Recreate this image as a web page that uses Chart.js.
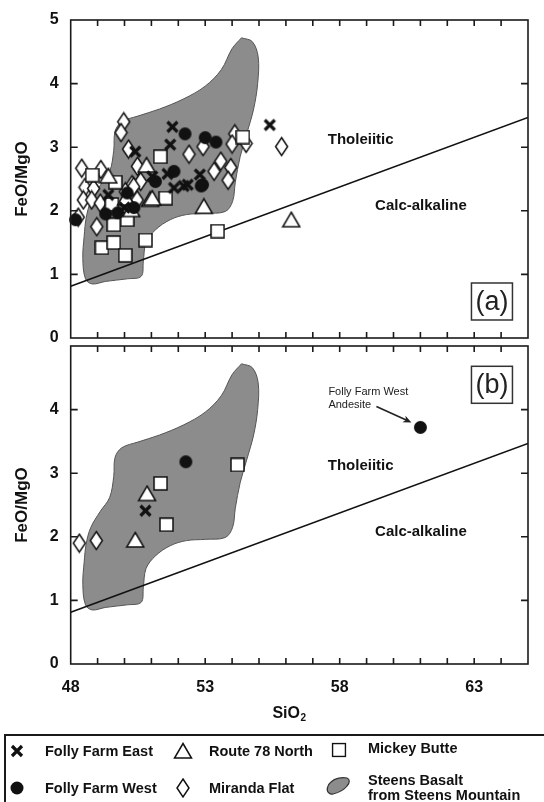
<!DOCTYPE html>
<html><head><meta charset="utf-8">
<script src="https://cdn.jsdelivr.net/npm/chart.js@4.4.1/dist/chart.umd.min.js"></script>
<style>
html,body{margin:0;padding:0;background:#fff;width:544px;height:802px;overflow:hidden;position:relative;font-family:"Liberation Sans",Arial,sans-serif;}
canvas{position:absolute;left:0;}
#cA{top:0}
#cB{top:336px}
#legendBox{position:absolute;left:4px;top:734px;width:600px;height:120px;border:2px solid #1a1a1a;box-sizing:border-box;}
.lt{position:absolute;font-weight:bold;font-size:14.5px;color:#111;white-space:nowrap;line-height:16px;transform:translateY(-50%);}
.ls{position:absolute;transform:translate(-50%,-50%);}
</style></head><body>
<canvas id="cA" width="544" height="350"></canvas>
<canvas id="cB" width="544" height="388"></canvas>
<div id="legendBox"></div>
<svg class="ls" style="left:17px;top:751px" width="15" height="15"><path d="M2.5 2.5L12.5 12.5M12.5 2.5L2.5 12.5" stroke="#111" stroke-width="3.2"/></svg>
<div class="lt" style="left:45px;top:751px">Folly Farm East</div>
<svg class="ls" style="left:183px;top:751px" width="20" height="18"><path d="M10 1.5L18.5 16L1.5 16Z" fill="#fff" stroke="#111" stroke-width="1.5"/></svg>
<div class="lt" style="left:209px;top:751px">Route 78 North</div>
<svg class="ls" style="left:339px;top:750px" width="15" height="15"><rect x="1" y="1" width="13" height="13" fill="#fff" stroke="#111" stroke-width="1.5"/></svg>
<div class="lt" style="left:368px;top:748px">Mickey Butte</div>
<svg class="ls" style="left:17px;top:788px" width="15" height="15"><circle cx="7.5" cy="7.5" r="6.5" fill="#111"/></svg>
<div class="lt" style="left:45px;top:788px">Folly Farm West</div>
<svg class="ls" style="left:183px;top:788px" width="15" height="21"><path d="M7.5 1.5L13.5 10.5L7.5 19.5L1.5 10.5Z" fill="#fff" stroke="#111" stroke-width="1.5"/></svg>
<div class="lt" style="left:209px;top:788px">Miranda Flat</div>
<svg class="ls" style="left:338px;top:786px" width="26" height="20"><path d="M4 17C1 15 2 9 6 6C10 2 17 1 22 2C25 3 25 7 22 10C19 14 12 17 8 18C6 18.5 5 18 4 17Z" fill="#8c8c8c" stroke="#333" stroke-width="1.2"/></svg>
<div class="lt" style="left:368px;top:780px">Steens Basalt</div>
<div class="lt" style="left:368px;top:795px">from Steens Mountain</div>
<script>
// ---------------- data ----------------
const xTickValues = [48, 53, 58, 63];
const yTickValuesA = [0, 1, 2, 3, 4, 5];
const yTickValuesB = [0, 1, 2, 3, 4];
const boundaryLine = [[48, 0.813], [65, 3.468]];
const steensField = [
  [54.35,4.72],[54.75,4.66],[54.97,4.42],[54.95,4.0],[54.8,3.6],[54.55,3.22],[54.3,2.85],[54.12,2.45],
  [54.02,2.15],[53.75,1.99],[53.0,1.96],[52.3,1.94],[51.7,1.86],[51.15,1.7],[50.8,1.5],[50.7,1.2],
  [50.62,0.97],[50.1,0.93],[49.3,0.89],[48.8,0.85],[48.55,0.93],[48.45,1.25],[48.5,1.6],[48.58,1.9],
  [48.75,2.15],[49.1,2.4],[49.45,2.62],[49.6,2.95],[49.65,3.25],[49.9,3.4],[50.5,3.49],[51.3,3.6],
  [52.2,3.76],[53.0,3.96],[53.6,4.22],[54.0,4.55],[54.35,4.72]
];
// panel (a)
const follyFarmEastA = [[55.4,3.35],[51.78,3.32],[51.7,3.04],[50.4,2.93],[52.8,2.57],[51.6,2.58],[52.2,2.39],[51.03,2.54],[51.84,2.36],[49.4,2.25],[50.0,2.05],[52.35,2.41]];
const follyFarmWestA = [[52.25,3.21],[53.0,3.15],[53.4,3.08],[51.84,2.62],[52.85,2.39],[51.15,2.46],[48.18,1.86],[49.3,1.95],[49.75,1.97],[50.35,2.05],[50.1,2.28],[52.9,2.41]];
const route78NorthA = [[56.2,1.86],[52.95,2.07],[50.82,2.72],[50.95,2.18],[50.25,2.02],[50.05,2.2],[51.03,2.2],[49.4,2.55]];
const mickeyButteA = [[51.33,2.85],[54.4,3.16],[51.53,2.2],[49.66,2.45],[49.53,2.1],[49.6,1.78],[50.1,1.86],[49.16,1.42],[49.6,1.5],[50.03,1.3],[50.78,1.54],[53.46,1.68],[48.8,2.56]];
const mirandaFlatA = [[49.97,3.40],[49.87,3.23],[50.15,2.97],[50.48,2.7],[52.4,2.89],[52.92,3.01],[54.1,3.21],[54.52,3.06],[54.0,3.05],[53.58,2.78],[53.33,2.62],[53.95,2.68],[53.85,2.48],[48.41,2.67],[49.12,2.65],[48.53,2.37],[48.85,2.35],[50.28,2.41],[50.6,2.46],[50.34,2.38],[50.47,2.17],[50.03,2.3],[48.47,2.17],[48.78,2.17],[49.1,2.12],[48.28,1.9],[48.97,1.75],[55.84,3.01]];
// panel (b)
const follyFarmEastB = [[50.78,2.41]];
const follyFarmWestB = [[52.28,3.18],[61.0,3.72]];
const route78NorthB = [[50.84,2.68],[50.4,1.95]];
const mickeyButteB = [[54.2,3.13],[51.34,2.84],[51.56,2.19]];
const mirandaFlatB = [[48.32,1.90],[48.95,1.94]];

// ---------------- markers ----------------
function mk(w,h,draw){const c=document.createElement('canvas');c.width=w;c.height=h;const g=c.getContext('2d');draw(g);return c;}
const imgDiamond = mk(15,21,g=>{g.beginPath();g.moveTo(7.5,1.5);g.lineTo(13.5,10.5);g.lineTo(7.5,19.5);g.lineTo(1.5,10.5);g.closePath();g.fillStyle='#fff';g.fill();g.lineWidth=1.5;g.strokeStyle='#111';g.stroke();});
const imgSquare = mk(15,15,g=>{g.fillStyle='#fff';g.fillRect(1,1,13,13);g.lineWidth=1.5;g.strokeStyle='#111';g.strokeRect(1,1,13,13);});
const imgTriangle = mk(20,18,g=>{g.beginPath();g.moveTo(10,1.5);g.lineTo(18.5,16);g.lineTo(1.5,16);g.closePath();g.fillStyle='#fff';g.fill();g.lineWidth=1.5;g.strokeStyle='#111';g.stroke();});
const imgCircle = mk(15,15,g=>{g.beginPath();g.arc(7.5,7.5,6.5,0,Math.PI*2);g.fillStyle='#111';g.fill();});
const imgCross = mk(15,15,g=>{g.beginPath();g.moveTo(2.5,2.5);g.lineTo(12.5,12.5);g.moveTo(12.5,2.5);g.lineTo(2.5,12.5);g.lineWidth=3.2;g.strokeStyle='#111';g.stroke();});

const pts = a => a.map(p => ({x:p[0], y:p[1]}));
const FONT = '"Liberation Sans", Arial, sans-serif';

function sc(data, img, order){
  return {type:'scatter', data:pts(data), pointStyle:img, pointRadius:7, order:order, clip:10};
}

const framePlugin = {
  id:'frame',
  afterDraw(chart){
    const {ctx, chartArea:a, scales:{x,y}} = chart;
    ctx.save();
    ctx.strokeStyle='#1a1a1a'; ctx.lineWidth=1.6;
    ctx.strokeRect(a.left,a.top,a.right-a.left,a.bottom-a.top);
    ctx.beginPath();
    for(let v=x.min+1; v<x.max; v++){
      const px=x.getPixelForValue(v);
      ctx.moveTo(px,a.bottom); ctx.lineTo(px,a.bottom-6);
      ctx.moveTo(px,a.top); ctx.lineTo(px,a.top+6);
    }
    for(let v=y.min+1; v<y.max; v++){
      const py=y.getPixelForValue(v);
      ctx.moveTo(a.left,py); ctx.lineTo(a.left+7,py);
      ctx.moveTo(a.right,py); ctx.lineTo(a.right-7,py);
    }
    ctx.stroke();
    ctx.restore();
  }
};

const textPlugin = {
  id:'texts',
  afterDatasetsDraw(chart){
    const {ctx, scales:{x,y}} = chart;
    const cfg = chart.options.plugins.texts;
    ctx.save();
    ctx.fillStyle='#111';
    ctx.textAlign='center'; ctx.textBaseline='middle';
    ctx.font='bold 15px '+FONT;
    ctx.fillText('Tholeiitic', x.getPixelForValue(58.78), y.getPixelForValue(3.11));
    ctx.fillText('Calc-alkaline', x.getPixelForValue(61.02), y.getPixelForValue(2.08));
    // panel tag
    const cx=x.getPixelForValue(63.66), cy=y.getPixelForValue(cfg.tagY);
    ctx.fillStyle='#fff'; ctx.fillRect(cx-20.5,cy-18.5,41,37);
    ctx.strokeStyle='#333'; ctx.lineWidth=1.5; ctx.strokeRect(cx-20.5,cy-18.5,41,37);
    ctx.fillStyle='#222'; ctx.font='27px '+FONT;
    ctx.fillText(cfg.tag, cx, cy+1);
    if(cfg.annot){
      const px=x.getPixelForValue(61.0), py=y.getPixelForValue(3.72);
      ctx.font='11px '+FONT; ctx.textAlign='left'; ctx.fillStyle='#222';
      ctx.fillText('Folly Farm West', px-92, py-35);
      ctx.fillText('Andesite', px-92, py-22);
      const x0=px-44, y0=py-21, x1=px-9, y1=py-5;
      ctx.strokeStyle='#222'; ctx.lineWidth=1.6;
      ctx.beginPath(); ctx.moveTo(x0,y0); ctx.lineTo(x1-3,y1-1.4); ctx.stroke();
      const ang=Math.atan2(y1-y0,x1-x0);
      ctx.beginPath(); ctx.moveTo(x1,y1);
      ctx.lineTo(x1-9*Math.cos(ang-0.42), y1-9*Math.sin(ang-0.42));
      ctx.lineTo(x1-6*Math.cos(ang), y1-6*Math.sin(ang));
      ctx.lineTo(x1-9*Math.cos(ang+0.42), y1-9*Math.sin(ang+0.42));
      ctx.closePath(); ctx.fillStyle='#222'; ctx.fill();
    }
    if(cfg.xTitle){
      ctx.fillStyle='#111'; ctx.textAlign='left'; ctx.textBaseline='alphabetic';
      ctx.font='bold 16px '+FONT;
      const w1=ctx.measureText('SiO').width;
      ctx.font='bold 10px '+FONT;
      const w2=ctx.measureText('2').width;
      const left=289-(w1+w2)/2;
      ctx.font='bold 16px '+FONT;
      ctx.fillText('SiO', left, 382);
      ctx.font='bold 10px '+FONT;
      ctx.fillText('2', left+w1+0.5, 385);
    }
    ctx.restore();
  }
};

function makeChart(id, sets, yTicks, opts){
  const datasets = [
    {type:'line', data:pts(steensField), fill:'shape', backgroundColor:'#8c8c8c', borderColor:'#555', borderWidth:1, pointRadius:0, tension:0.35, order:20},
    {type:'line', data:pts(boundaryLine), fill:false, borderColor:'#111', borderWidth:1.6, pointRadius:0, order:19},
    sc(sets.miranda, imgDiamond, 5),
    sc(sets.mickey, imgSquare, 4),
    sc(sets.route, imgTriangle, 3),
    sc(sets.ffw, imgCircle, 2),
    sc(sets.ffe, imgCross, 1)
  ];
  return new Chart(document.getElementById(id), {
    type:'scatter',
    data:{datasets},
    options:{
      responsive:false, animation:false, devicePixelRatio:1, events:[],
      layout:{padding:{left:0,right:16,top:opts.padTop,bottom:0}},
      plugins:{legend:{display:false}, tooltip:{enabled:false}, texts:opts.texts},
      scales:{
        x:{type:'linear', min:48, max:65,
           afterBuildTicks:s=>{s.ticks=xTickValues.map(v=>({value:v}));},
           afterFit:s=>{s.height=opts.xHeight; s.paddingLeft=0; s.paddingRight=0; s.paddingTop=0; s.paddingBottom=0;},
           grid:{display:false, drawTicks:false}, border:{display:false},
           ticks:{display:opts.xLabels, padding:14, color:'#111', font:{family:FONT, size:16, weight:'bold'}}},
        y:{type:'linear', min:0, max:5,
           afterBuildTicks:s=>{s.ticks=yTicks.map(v=>({value:v}));},
           afterFit:s=>{s.width=70.7; s.paddingTop=0; s.paddingBottom=0; s.paddingLeft=0; s.paddingRight=0;},
           grid:{display:false, drawTicks:false}, border:{display:false},
           title:{display:true, text:'FeO/MgO', color:'#111', font:{family:FONT, size:17, weight:'bold'}, padding:{top:12,bottom:0}},
           ticks:{padding:12, color:'#111', font:{family:FONT, size:16, weight:'bold'}}}
      }
    },
    plugins:[framePlugin, textPlugin]
  });
}

makeChart('cA', {ffe:follyFarmEastA, ffw:follyFarmWestA, route:route78NorthA, mickey:mickeyButteA, miranda:mirandaFlatA},
  yTickValuesA, {padTop:20, xHeight:12, xLabels:false, texts:{tag:'(a)', tagY:0.574}});
makeChart('cB', {ffe:follyFarmEastB, ffw:follyFarmWestB, route:route78NorthB, mickey:mickeyButteB, miranda:mirandaFlatB},
  yTickValuesB, {padTop:10, xHeight:60, xLabels:true, texts:{tag:'(b)', tagY:4.39, annot:true, xTitle:true}});
</script>
</body></html>
